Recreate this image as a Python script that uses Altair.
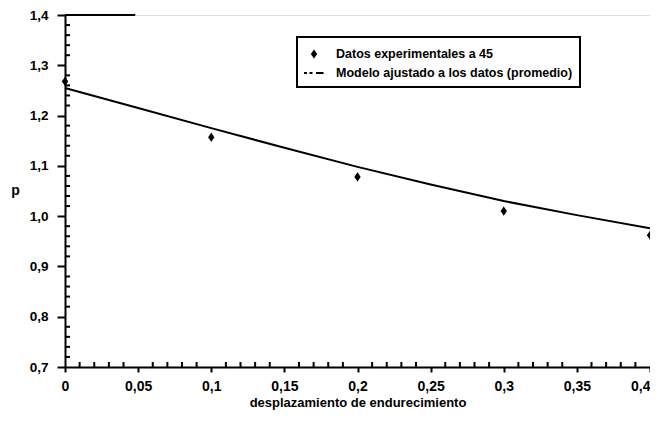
import altair as alt
import pandas as pd

# Data
x_points = [0.0, 0.1, 0.2, 0.3, 0.4]
y_points = [1.268, 1.157, 1.078, 1.010, 0.962]

x_line = [0.0, 0.05, 0.1, 0.15, 0.2, 0.25, 0.3, 0.35, 0.4]
y_line = [1.255, 1.215, 1.175, 1.136, 1.098, 1.063, 1.030, 1.002, 0.976]

series_labels = ["Datos experimentales a 45", "Modelo ajustado a los datos (promedio)"]

y_minor = [round(0.7 + 0.02 * i, 2) for i in range(36) if i % 5 != 0]
x_minor = [round(0.01 * i, 2) for i in range(41) if i % 5 != 0]

top_line_x = [0.0, 0.048]
top_line_y = 1.4

pts = pd.DataFrame({"x": x_points, "y": y_points, "serie": series_labels[0]})
line_df = pd.DataFrame({"x": x_line, "y": y_line})
ymin_df = pd.DataFrame({"y": y_minor})
xmin_df = pd.DataFrame({"x": x_minor})
top_df = pd.DataFrame({"x": [top_line_x[0]], "x2": [top_line_x[1]], "y": [top_line_y]})

FONT = "Liberation Sans"

# marker: diamond with small stems; model: dashed line
DIAMOND = "M0,-0.5L0.05,-0.38L0.32,0L0.05,0.38L0,0.5L-0.05,0.38L-0.32,0L-0.05,-0.38Z"
DASHES = "M-1,-0.1H-0.7V0.1H-1Z M-0.45,-0.1H-0.15V0.1H-0.45Z M0.2,-0.1H0.95V0.1H0.2Z"

xscale = alt.Scale(domain=[0, 0.4], nice=False, zero=False)
yscale = alt.Scale(domain=[0.7, 1.4], nice=False, zero=False)

x_axis = alt.Axis(
    values=[0, 0.05, 0.1, 0.15, 0.2, 0.25, 0.3, 0.35, 0.4],
    labelExpr="replace(format(datum.value, '~g'), '.', ',')",
    labelAlign=alt.condition("datum.value >= 0.4", alt.value("right"), alt.value("center")),
    title="desplazamiento de endurecimiento",
    grid=False, domainColor="black", domainWidth=2, tickColor="black",
    tickWidth=2, tickSize=5, labelPadding=7, titlePadding=3, labelFlush=False,
    labelFont=FONT, labelFontWeight="bold", labelFontSize=14, labelColor="black",
    titleFont=FONT, titleFontWeight="bold", titleFontSize=13, titleColor="black",
)
y_axis = alt.Axis(
    values=[0.7, 0.8, 0.9, 1.0, 1.1, 1.2, 1.3, 1.4],
    labelExpr="replace(format(datum.value, '.1f'), '.', ',')",
    title="p", titleAngle=0, titleX=-50, titleY=182, titleAlign="center",
    grid=False, domainColor="black", domainWidth=2, tickColor="black",
    tickWidth=2, tickSize=8, labelPadding=9, labelFlush=False,
    labelFont=FONT, labelFontWeight="bold", labelFontSize=13.5, labelColor="black",
    titleFont=FONT, titleFontWeight="bold", titleFontSize=14, titleColor="black",
)

line = alt.Chart(line_df).mark_line(color="black", strokeWidth=2).encode(
    x=alt.X("x:Q", scale=xscale, axis=x_axis),
    y=alt.Y("y:Q", scale=yscale, axis=y_axis),
)

points = alt.Chart(pts).mark_point(filled=True, color="black", size=400, opacity=1).encode(
    x=alt.X("x:Q", scale=xscale),
    y=alt.Y("y:Q", scale=yscale),
    shape=alt.Shape(
        "serie:N",
        scale=alt.Scale(domain=series_labels, range=[DIAMOND, DASHES]),
        legend=alt.Legend(
            title=None, orient="none", legendX=232, legendY=22,
            strokeColor="black", padding=7, rowPadding=2, labelOffset=12,
            labelFont=FONT, labelFontWeight="bold", labelFontSize=12.5, labelColor="black",
            labelLimit=0,
            symbolFillColor="black", symbolStrokeColor="black", symbolStrokeWidth=0,
            symbolSize=400, symbolOpacity=1,
        ),
    ),
)

ymin = alt.Chart(ymin_df).mark_rule(color="black", strokeWidth=2).encode(
    y=alt.Y("y:Q", scale=yscale), x=alt.value(0), x2=alt.value(5)
)
xmin = alt.Chart(xmin_df).mark_rule(color="black", strokeWidth=2).encode(
    x=alt.X("x:Q", scale=xscale), y=alt.value(347), y2=alt.value(352)
)
top = alt.Chart(top_df).mark_rule(color="black", strokeWidth=2).encode(
    x=alt.X("x:Q", scale=xscale), x2="x2:Q", y=alt.Y("y:Q", scale=yscale)
)

chart = alt.layer(line, points, ymin, xmin, top).properties(
    width=585, height=352,
    autosize=alt.AutoSizeParams(type="none"),
    padding={"left": 57, "top": 7, "right": 0, "bottom": 47},
).configure_view(stroke=None).configure(background="white").configure_legend(strokeWidth=2)

chart.save("out.html", embed_options={"renderer": "svg", "actions": False})
